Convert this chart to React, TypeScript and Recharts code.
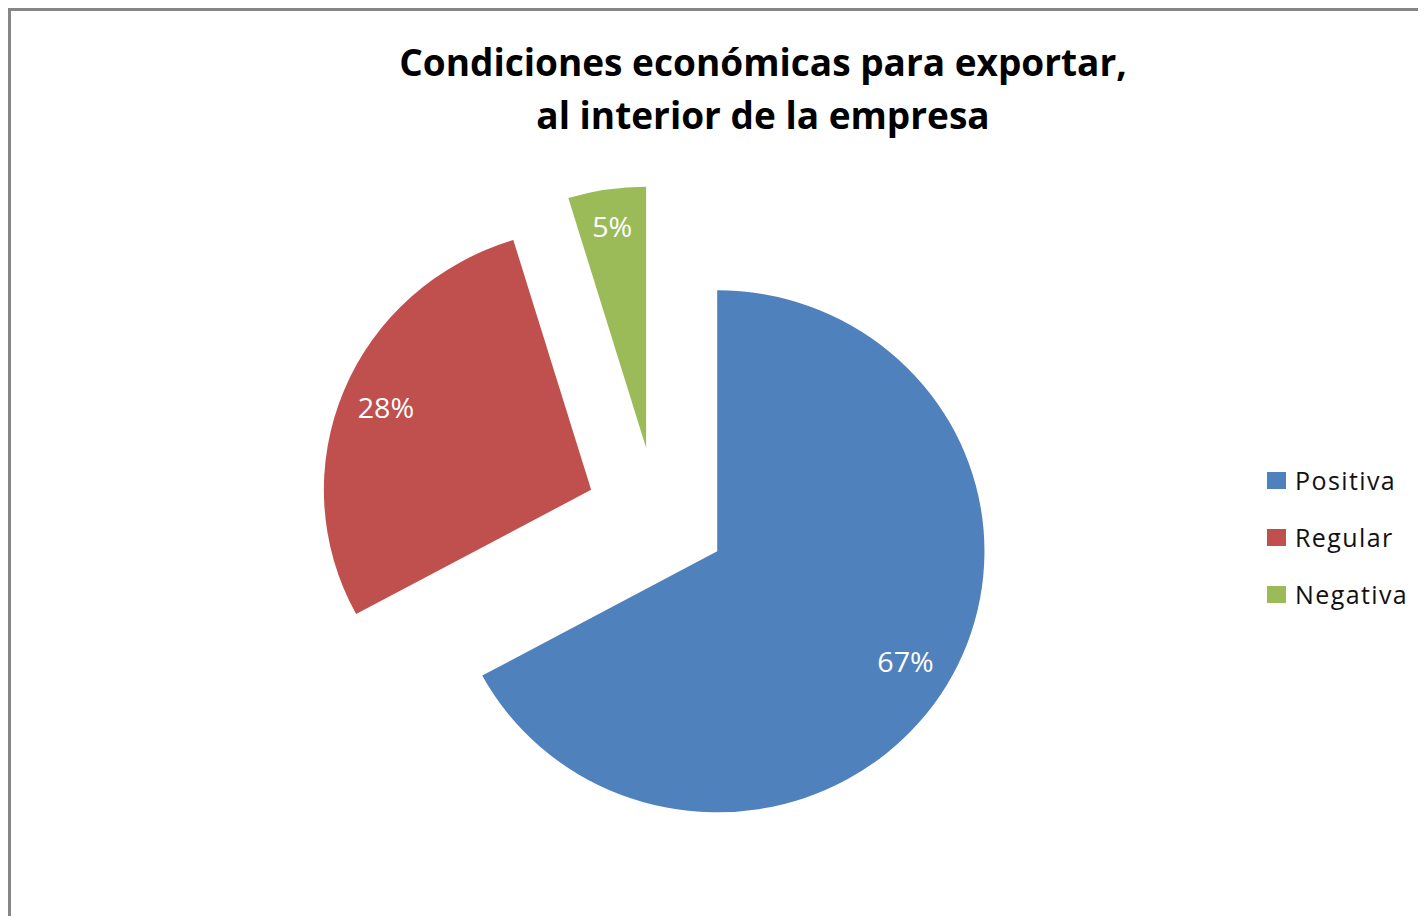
import React from 'react';
import { PieChart, Pie, Cell } from 'recharts';

const categories: string[] = ['Positiva', 'Regular', 'Negativa'];
const values: number[] = [67.1, 28.2, 4.7];
const colors: string[] = ['#4F81BD', '#C0504D', '#9BBB59'];
const titleLines: string[] = ['Condiciones económicas para exportar,', 'al interior de la empresa'];

const data = categories.map((name, i) => ({ name, value: values[i] }));

const FONT = '"Open Sans", "Noto Sans", sans-serif';
const CHART_W = 1418;
const CHART_H = 916;
const CX = 648.5;
const CY = 508;
const R = 261;
const EXPLODE = 69;
const LABEL_R: number[] = [0.82, 0.83, 0.86];
const X_STRETCH = 1.024;
const RAD = Math.PI / 180;
const total = values.reduce((a, b) => a + b, 0);

function explodeOffset(i: number) {
  const before = values.slice(0, i).reduce((a, b) => a + b, 0);
  const midFrac = (before + values[i] / 2) / total;
  const angle = 90 - 360 * midFrac;
  return { dx: EXPLODE * Math.cos(angle * RAD), dy: -EXPLODE * Math.sin(angle * RAD) };
}

const makeLabel = (k: number) => (props: any) => {
  if (props.index !== k) return null;
  const { cx, cy, midAngle, outerRadius, percent } = props;
  const r = outerRadius * LABEL_R[k];
  const x = cx + r * Math.cos(-midAngle * RAD);
  const y = cy + r * Math.sin(-midAngle * RAD);
  return (
    <text
      x={x}
      y={y}
      fill="#ffffff"
      textAnchor="middle"
      dominantBaseline="central"
      fontSize={28}
      fontFamily={FONT}
    >
      {`${Math.round(percent * 100)}%`}
    </text>
  );
};

export default function App() {
  return (
    <div style={{ position: 'relative', width: 1410, height: 908, fontFamily: FONT }}>
      <div
        style={{
          position: 'absolute',
          left: 0,
          top: 0,
          width: 1418,
          height: 916,
          boxSizing: 'border-box',
          borderTop: '3px solid #868686',
          borderLeft: '3px solid #868686',
        }}
      />
      <div
        style={{
          position: 'absolute',
          left: 255,
          top: 27,
          width: 1000,
          textAlign: 'center',
          fontWeight: 700,
          fontSize: 37,
          lineHeight: '53px',
          color: '#000',
          whiteSpace: 'nowrap',
        }}
      >
        {titleLines.map((t, i) => (
          <div key={i}>{t}</div>
        ))}
      </div>
      <div
        style={{
          position: 'absolute',
          left: 0,
          top: 0,
          width: CHART_W,
          height: CHART_H,
          transform: `scaleX(${X_STRETCH})`,
          transformOrigin: `${CX}px ${CY}px`,
        }}
      >
        <PieChart width={CHART_W} height={CHART_H} margin={{ top: 0, right: 0, bottom: 0, left: 0 }}>
          {categories.map((_, k) => {
            const { dx, dy } = explodeOffset(k);
            return (
              <Pie
                key={k}
                data={data}
                dataKey="value"
                nameKey="name"
                cx={CX + dx}
                cy={CY + dy}
                outerRadius={R}
                startAngle={90}
                endAngle={-270}
                stroke="none"
                labelLine={false}
                label={makeLabel(k)}
                isAnimationActive={false}
              >
                {data.map((_, i) => (
                  <Cell key={i} fill={i === k ? colors[i] : 'transparent'} stroke="none" />
                ))}
              </Pie>
            );
          })}
        </PieChart>
      </div>
      <div style={{ position: 'absolute', left: 1259, top: 444 }}>
        {categories.map((c, i) => (
          <div key={c} style={{ display: 'flex', alignItems: 'center', height: 57 }}>
            <div style={{ width: 19, height: 17, background: colors[i], marginRight: 9 }} />
            <span style={{ fontSize: 25, letterSpacing: 1.4, color: '#111', lineHeight: '57px' }}>{c}</span>
          </div>
        ))}
      </div>
    </div>
  );
}
